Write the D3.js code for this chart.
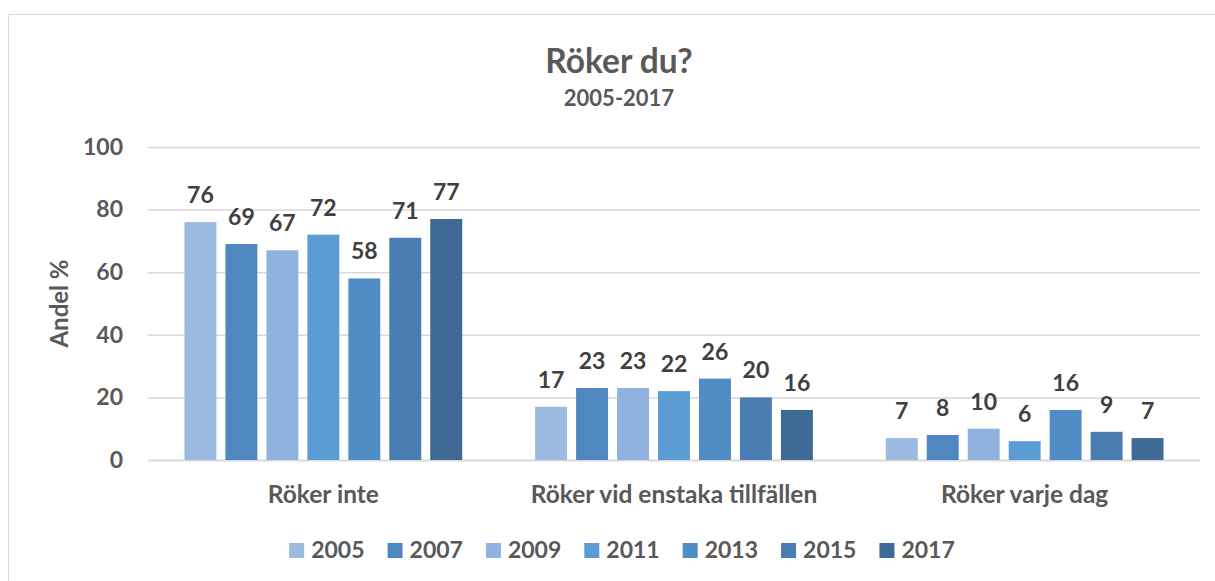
<!DOCTYPE html>
<html lang="sv">
<head>
<meta charset="UTF-8">
<title>Röker du?</title>
<script src="https://d3js.org/d3.v7.min.js"></script>
<style>
  body { margin: 0; background: #fff; }
  text { font-family: Lato, "Open Sans", sans-serif; font-weight: bold; }
</style>
</head>
<body>
<script>
var categories = ["Röker inte", "Röker vid enstaka tillfällen", "Röker varje dag"];
var years = ["2005", "2007", "2009", "2011", "2013", "2015", "2017"];
var values = {
  "2005": [76, 17, 7],
  "2007": [69, 23, 8],
  "2009": [67, 23, 10],
  "2011": [72, 22, 6],
  "2013": [58, 26, 16],
  "2015": [71, 20, 9],
  "2017": [77, 16, 7]
};
var colors = ["#9bbae0", "#4f88c0", "#8fb2de", "#5b9bd6", "#508dc5", "#4a7eb2", "#3f6a95"];
var yTicks = [0, 20, 40, 60, 80, 100];

var W = 1215, H = 581;
var plot = {left: 148, right: 1200, top: 147, bottom: 460};
var mid = 619;

var svg = d3.select("body").append("svg")
  .attr("width", W).attr("height", H);

// chart frame
svg.append("rect")
  .attr("x", 8.5).attr("y", 14.5)
  .attr("width", W).attr("height", H)
  .attr("fill", "#fff").attr("stroke", "#d9d9d9");

var x0 = d3.scaleBand().domain(categories).range([plot.left, plot.right]);
var x1 = d3.scaleBand().domain(years).range([0, x0.bandwidth()])
  .paddingInner(0.22).paddingOuter(0.89);
var y = d3.scaleLinear().domain([0, 100]).range([plot.bottom, plot.top]);
var color = d3.scaleOrdinal().domain(years).range(colors);

// grid
svg.append("g").selectAll("line").data(yTicks).join("line")
  .attr("x1", plot.left).attr("x2", plot.right)
  .attr("y1", function(d){ return y(d) + 0.5; })
  .attr("y2", function(d){ return y(d) + 0.5; })
  .attr("stroke", "#d9d9d9")
  .attr("stroke-width", function(d){ return d === 0 ? 2 : 1.5; });

// y axis labels
var yAxis = d3.axisLeft(y).tickValues(yTicks).tickSize(0).tickPadding(0);
var gy = svg.append("g").attr("transform", "translate(123,0)").call(yAxis);
gy.select(".domain").remove();
gy.selectAll("text")
  .attr("fill", "#595959").style("font-size", "23px")
  .style("font-family", "Lato, sans-serif");

svg.append("text")
  .attr("transform", "translate(68," + ((plot.top + plot.bottom) / 2) + ") rotate(-90)")
  .attr("text-anchor", "middle")
  .attr("fill", "#595959").style("font-size", "24px")
  .text("Andel %");

// bars
var groups = svg.append("g").selectAll("g").data(categories).join("g")
  .attr("transform", function(c){ return "translate(" + x0(c) + ",0)"; });

groups.selectAll("rect")
  .data(function(c, i){ return years.map(function(yr){ return {yr: yr, v: values[yr][i]}; }); })
  .join("rect")
  .attr("x", function(d){ return x1(d.yr); })
  .attr("width", x1.bandwidth())
  .attr("y", function(d){ return y(d.v); })
  .attr("height", function(d){ return y(0) - y(d.v); })
  .attr("fill", function(d){ return color(d.yr); });

groups.selectAll("text.lbl")
  .data(function(c, i){ return years.map(function(yr){ return {yr: yr, v: values[yr][i]}; }); })
  .join("text")
  .attr("class", "lbl")
  .attr("x", function(d){ return x1(d.yr) + x1.bandwidth() / 2; })
  .attr("y", function(d){ return y(d.v) - 19; })
  .attr("text-anchor", "middle")
  .attr("fill", "#404040").style("font-size", "23px")
  .text(function(d){ return d.v; });

// x axis labels
var xAxis = d3.axisBottom(x0).tickSize(0).tickPadding(0);
var gx = svg.append("g").attr("transform", "translate(0,503)").call(xAxis);
gx.select(".domain").remove();
gx.selectAll("text")
  .attr("y", 0).attr("dy", 0)
  .attr("fill", "#595959").style("font-size", "24.5px")
  .style("font-family", "Lato, sans-serif");

// titles
svg.append("text").attr("x", mid).attr("y", 73)
  .attr("text-anchor", "middle").attr("fill", "#595959")
  .style("font-size", "33.5px").text("Röker du?");
svg.append("text").attr("x", mid).attr("y", 106)
  .attr("text-anchor", "middle").attr("fill", "#595959")
  .style("font-size", "22px").text("2005-2017");

// legend
var legend = svg.append("g");
var lx = 0;
years.forEach(function(yr){
  var it = legend.append("g").attr("transform", "translate(" + lx + ",0)");
  it.append("rect").attr("x", 0).attr("y", -15).attr("width", 15).attr("height", 15)
    .attr("fill", color(yr));
  var t = it.append("text").attr("x", 22).attr("y", 0)
    .attr("fill", "#595959").style("font-size", "23px").text(yr);
  lx += 22 + t.node().getComputedTextLength() + 23;
});
lx -= 23;
legend.attr("transform", "translate(" + (mid + 3 - lx / 2) + ",558)");
</script>
</body>
</html>
